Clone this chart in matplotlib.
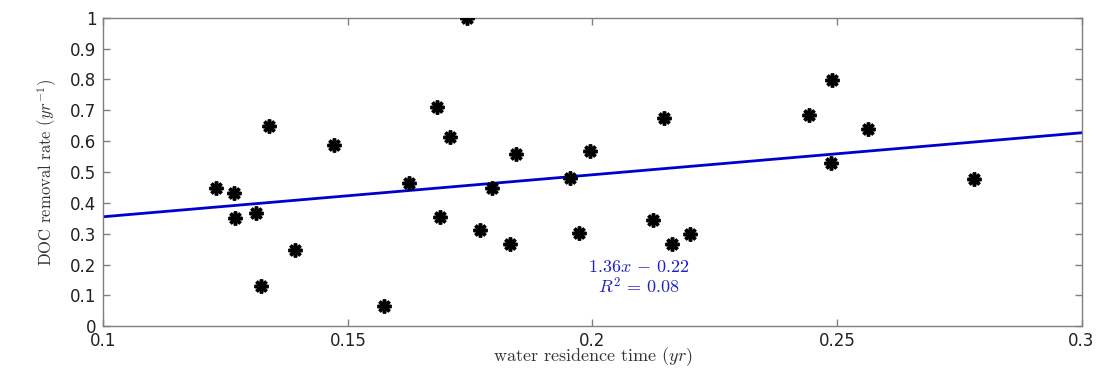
import numpy as np
import matplotlib
matplotlib.use('Agg')
import matplotlib.pyplot as plt
from matplotlib.ticker import FormatStrFormatter

plt.rcParams['mathtext.fontset'] = 'cm'

##############################
# Data
residence_time = [0.1230, 0.1266, 0.1268, 0.1312, 0.1338, 0.1323, 0.1392, 0.1472, 0.1573,
                  0.1743, 0.1625, 0.1683, 0.1688, 0.1708, 0.1770, 0.1795, 0.1831, 0.1844,
                  0.1955, 0.1972, 0.1994, 0.2123, 0.2147, 0.2163, 0.2199,
                  0.2443, 0.2490, 0.2487, 0.2563, 0.2780]
removal_rate = [0.447, 0.431, 0.352, 0.366, 0.648, 0.131, 0.247, 0.587, 0.067,
                1.000, 0.463, 0.711, 0.354, 0.613, 0.312, 0.448, 0.268, 0.557,
                0.480, 0.302, 0.569, 0.345, 0.675, 0.268, 0.298,
                0.685, 0.797, 0.530, 0.638, 0.476]

fit_slope = 1.36
fit_intercept = 0.219
fit_label = r'$1.36x\,-\,0.22$'
r2_label = r'$R^2\,=\,0.08$'

x_ticks = [0.1, 0.15, 0.2, 0.25, 0.3]
y_ticks = [0, 0.1, 0.2, 0.3, 0.4, 0.5, 0.6, 0.7, 0.8, 0.9, 1.0]

##############################
# Plot
fig = plt.figure(figsize=(10.96, 3.68), dpi=100)
ax = fig.add_axes([0.0944, 0.1133, 0.8924, 0.8387])

xfit = np.array([0.1, 0.3])
ax.plot(xfit, fit_slope*xfit + fit_intercept, '-', color='#0000cc', linewidth=2.0, zorder=2)
ax.plot(residence_time, removal_rate, linestyle='none', marker=(8, 2, 0),
        markersize=10, markeredgewidth=2.5, color='black', zorder=3)

ax.text(0.2095, 0.192, fit_label, color='#2020c0', fontsize=13, ha='center', va='center')
ax.text(0.2095, 0.127, r2_label, color='#2020c0', fontsize=13, ha='center', va='center')

ax.set_xlim(0.1, 0.3)
ax.set_ylim(0, 1)
ax.set_xticks(x_ticks)
ax.set_yticks(y_ticks)
ax.xaxis.set_major_formatter(FormatStrFormatter('%g'))
ax.yaxis.set_major_formatter(FormatStrFormatter('%g'))
ax.tick_params(direction='in', top=True, right=True, length=5, width=1,
               color='#808080', labelsize=12, labelcolor='#222222')
ax.tick_params(axis='x', pad=4)
ax.tick_params(axis='y', pad=5)
for sp in ax.spines.values():
    sp.set_color('#808080')
    sp.set_linewidth(1.0)

ax.set_xlabel('water residence time $(yr)$', family='cmr10', fontsize=13, labelpad=-3, color='#333333')
ax.set_ylabel('DOC removal rate $(yr^{-1})$', family='cmr10', fontsize=12, labelpad=8, color='#333333')

plt.savefig('out.png', dpi=100)
